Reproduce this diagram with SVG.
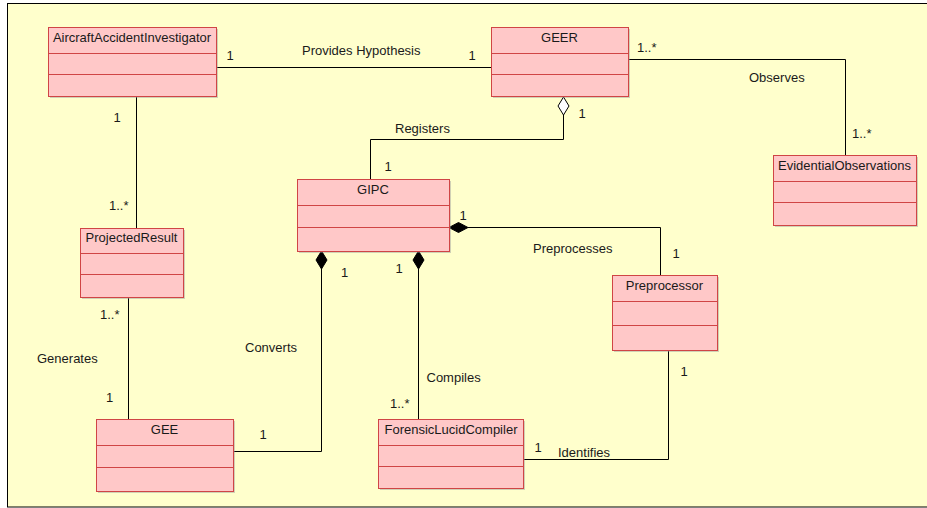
<svg xmlns="http://www.w3.org/2000/svg" width="927" height="508" viewBox="0 0 927 508">
<style>
text{font-family:"Liberation Sans",Arial,sans-serif;font-size:13px;fill:#1a1a1a}
.t{text-anchor:middle}
.box{fill:#FFC8C8;stroke:#D04545;stroke-width:1}
.sh{fill:#9a9a9a;opacity:0.45}
.div{stroke:#D04545;stroke-width:1}
.ln{fill:none;stroke:#000;stroke-width:1}
.fd{fill:#000;stroke:#000;stroke-width:1}
.hd{fill:#fff;stroke:#000;stroke-width:1}
</style>
<rect x="0" y="0" width="927" height="508" fill="#fff"/>
<rect x="7.5" y="3.5" width="930" height="503.5" fill="#FFFFCC" stroke="#000" stroke-width="1"/>

<g id="connectors">
<path class="ln" d="M216 67.5 H491"/>
<path class="ln" d="M628 59.5 H845.5 V155"/>
<path class="ln" d="M136.5 96 V228"/>
<path class="ln" d="M128.5 297 V419"/>
<path class="ln" d="M370.5 179 V139.5 H563.5 V115"/>
<path class="hd" d="M563.5 97 L569 106 L563.5 115 L558 106 Z"/>
<path class="ln" d="M468 227.5 H660.5 V275"/>
<path class="fd" d="M449 227.5 L458.5 222.5 L468 227.5 L458.5 232.5 Z"/>
<path class="ln" d="M233 451.5 H321.5 V269"/>
<path class="fd" d="M321.5 251 L327 260 L321.5 269 L316 260 Z"/>
<path class="ln" d="M418.5 419 V269"/>
<path class="fd" d="M418.5 251 L424 260 L418.5 269 L413 260 Z"/>
<path class="ln" d="M523 459.5 H668.5 V350"/>

<text class="t" x="230" y="60">1</text>
<text x="302" y="55">Provides Hypothesis</text>
<text class="t" x="472" y="60">1</text>
<text x="637" y="52">1..*</text>
<text x="749" y="82">Observes</text>
<text x="852" y="138">1..*</text>
<text class="t" x="117" y="122">1</text>
<text x="109" y="210">1..*</text>
<text x="100" y="319">1..*</text>
<text x="37" y="363">Generates</text>
<text class="t" x="109.5" y="402">1</text>
<text x="245" y="352">Converts</text>
<text class="t" x="263" y="439">1</text>
<text x="395" y="133">Registers</text>
<text class="t" x="582" y="118">1</text>
<text class="t" x="388" y="171">1</text>
<text class="t" x="463" y="220">1</text>
<text x="533" y="253">Preprocesses</text>
<text class="t" x="676" y="258">1</text>
<text class="t" x="344.5" y="277">1</text>
<text class="t" x="399" y="273">1</text>
<text x="426.5" y="382">Compiles</text>
<text x="390" y="408">1..*</text>
<text class="t" x="538" y="452">1</text>
<text x="558" y="457">Identifies</text>
<text class="t" x="684" y="376">1</text>
</g>

<g id="AircraftAccidentInvestigator">
<rect class="sh" x="50" y="29" width="168" height="69"/>
<rect class="box" x="48.5" y="27.5" width="168" height="69"/>
<line class="div" x1="48.5" y1="53.5" x2="216.5" y2="53.5"/>
<line class="div" x1="48.5" y1="74.5" x2="216.5" y2="74.5"/>
<text class="t" x="132" y="42">AircraftAccidentInvestigator</text>
</g>

<g id="GEER">
<rect class="sh" x="493" y="29" width="137" height="69"/>
<rect class="box" x="491.5" y="27.5" width="137" height="69"/>
<line class="div" x1="491.5" y1="53.5" x2="628.5" y2="53.5"/>
<line class="div" x1="491.5" y1="74.5" x2="628.5" y2="74.5"/>
<text class="t" x="559.5" y="42">GEER</text>
</g>

<g id="EvidentialObservations">
<rect class="sh" x="775" y="157" width="143" height="70"/>
<rect class="box" x="773.5" y="155.5" width="143" height="70"/>
<line class="div" x1="773.5" y1="181.5" x2="916.5" y2="181.5"/>
<line class="div" x1="773.5" y1="202.5" x2="916.5" y2="202.5"/>
<text class="t" x="844.5" y="170">EvidentialObservations</text>
</g>

<g id="ProjectedResult">
<rect class="sh" x="82" y="230" width="103" height="69"/>
<rect class="box" x="80.5" y="228.5" width="103" height="69"/>
<line class="div" x1="80.5" y1="253.5" x2="183.5" y2="253.5"/>
<line class="div" x1="80.5" y1="274.5" x2="183.5" y2="274.5"/>
<text class="t" x="131.5" y="242">ProjectedResult</text>
</g>

<g id="GEE">
<rect class="sh" x="98" y="421" width="137" height="72"/>
<rect class="box" x="96.5" y="419.5" width="137" height="72"/>
<line class="div" x1="96.5" y1="445.5" x2="233.5" y2="445.5"/>
<line class="div" x1="96.5" y1="467.5" x2="233.5" y2="467.5"/>
<text class="t" x="164.5" y="434">GEE</text>
</g>

<g id="GIPC">
<rect class="sh" x="299" y="181" width="152" height="72"/>
<rect class="box" x="297.5" y="179.5" width="152" height="72"/>
<line class="div" x1="297.5" y1="205.5" x2="449.5" y2="205.5"/>
<line class="div" x1="297.5" y1="227.5" x2="449.5" y2="227.5"/>
<text class="t" x="373" y="194">GIPC</text>
</g>

<g id="ForensicLucidCompiler">
<rect class="sh" x="380" y="421" width="145" height="69"/>
<rect class="box" x="378.5" y="419.5" width="145" height="69"/>
<line class="div" x1="378.5" y1="445.5" x2="523.5" y2="445.5"/>
<line class="div" x1="378.5" y1="466.5" x2="523.5" y2="466.5"/>
<text class="t" x="451" y="434">ForensicLucidCompiler</text>
</g>

<g id="Preprocessor">
<rect class="sh" x="614" y="277" width="105" height="75"/>
<rect class="box" x="612.5" y="275.5" width="105" height="75"/>
<line class="div" x1="612.5" y1="301.5" x2="717.5" y2="301.5"/>
<line class="div" x1="612.5" y1="325.5" x2="717.5" y2="325.5"/>
<text class="t" x="664.5" y="290">Preprocessor</text>
</g>
</svg>
